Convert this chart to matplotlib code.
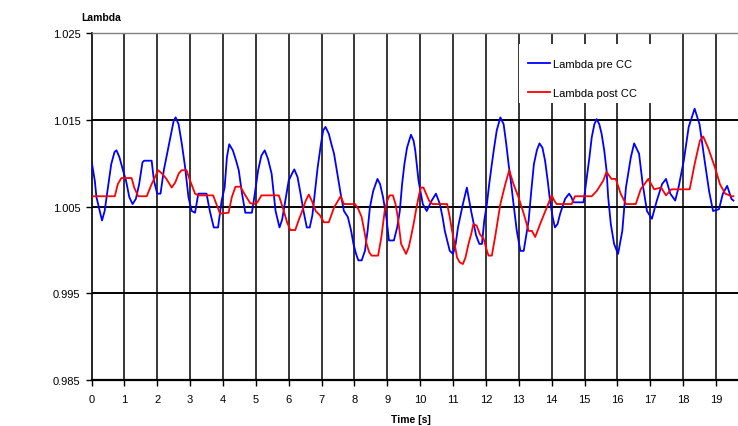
import matplotlib
matplotlib.use("Agg")
import matplotlib.pyplot as plt
from matplotlib.patches import Rectangle

plt.rcParams['font.family'] = ['Liberation Sans', 'DejaVu Sans']

# Lambda pre CC (blue)
t_pre = [0.00, 0.10, 0.15, 0.25, 0.32, 0.40, 0.50, 0.60, 0.70, 0.76, 0.85, 0.95,
         1.05, 1.15, 1.25, 1.35, 1.45, 1.55, 1.60, 1.83, 1.90, 2.00, 2.10, 2.20,
         2.30, 2.40, 2.50, 2.56, 2.65, 2.75, 2.85, 2.95, 3.05, 3.15, 3.25, 3.50,
         3.60, 3.72, 3.85, 3.96, 4.05, 4.12, 4.19, 4.30, 4.40, 4.48, 4.58, 4.68,
         4.88, 4.97, 5.07, 5.17, 5.27, 5.37, 5.48, 5.60, 5.72, 5.80, 5.88, 6.00,
         6.10, 6.17, 6.27, 6.36, 6.45, 6.55, 6.64, 6.72, 6.80, 6.88, 6.98, 7.05,
         7.12, 7.22, 7.30, 7.38, 7.48, 7.58, 7.68, 7.80, 7.90, 7.97, 8.05, 8.12,
         8.22, 8.32, 8.40, 8.47, 8.57, 8.70, 8.78, 8.87, 8.97, 9.05, 9.20, 9.30,
         9.38, 9.45, 9.52, 9.60, 9.72, 9.80, 9.85, 9.95, 10.08, 10.20, 10.35,
         10.48, 10.60, 10.68, 10.75, 10.90, 11.00, 11.08, 11.15, 11.30, 11.42,
         11.55, 11.70, 11.80, 11.88, 11.95, 12.03, 12.10, 12.18, 12.25, 12.33,
         12.44, 12.54, 12.62, 12.69, 12.77, 12.84, 12.94, 13.05, 13.15, 13.22,
         13.30, 13.38, 13.46, 13.55, 13.63, 13.72, 13.80, 13.88, 13.95, 14.03,
         14.10, 14.18, 14.26, 14.41, 14.53, 14.60, 14.66, 14.97, 15.07, 15.15,
         15.22, 15.30, 15.37, 15.45, 15.52, 15.60, 15.67, 15.72, 15.80, 15.90,
         16.02, 16.15, 16.26, 16.41, 16.51, 16.66, 16.77, 16.90, 17.05, 17.20,
         17.36, 17.48, 17.61, 17.76, 17.86, 18.02, 18.17, 18.35, 18.50, 18.64,
         18.79, 18.91, 19.09, 19.21, 19.34, 19.47, 19.53]
lam_pre = [1.0103, 1.0080, 1.0061, 1.0045, 1.0034, 1.0045, 1.0072, 1.0099, 1.0113,
           1.0115, 1.0107, 1.0093, 1.0080, 1.0061, 1.0053, 1.0059, 1.0076, 1.0101,
           1.0103, 1.0103, 1.0080, 1.0065, 1.0065, 1.0092, 1.0111, 1.0130, 1.0149,
           1.0153, 1.0145, 1.0122, 1.0095, 1.0061, 1.0045, 1.0043, 1.0065, 1.0065,
           1.0045, 1.0026, 1.0026, 1.0057, 1.0072, 1.0107, 1.0122, 1.0115, 1.0103,
           1.0092, 1.0065, 1.0043, 1.0043, 1.0065, 1.0092, 1.0109, 1.0115, 1.0105,
           1.0088, 1.0045, 1.0026, 1.0035, 1.0053, 1.0080, 1.0088, 1.0093, 1.0084,
           1.0065, 1.0045, 1.0026, 1.0026, 1.0040, 1.0068, 1.0095, 1.0122, 1.0138,
           1.0142, 1.0134, 1.0122, 1.0111, 1.0088, 1.0065, 1.0045, 1.0038, 1.0022,
           1.0007, 0.99954, 0.9988, 0.9988, 0.9999, 1.0022, 1.0049, 1.0068, 1.0082,
           1.0076, 1.0061, 1.0038, 1.0011, 1.0011, 1.0026, 1.0045, 1.0076, 1.0099,
           1.0118, 1.0133, 1.0126, 1.0115, 1.0080, 1.0053, 1.0045, 1.0057, 1.0065,
           1.0053, 1.0038, 1.0022, 0.9999, 0.99954, 1.0007, 1.0026, 1.0053, 1.0072,
           1.0045, 1.0017, 1.0007, 1.0007, 1.0034, 1.0053, 1.0076, 1.0099, 1.0118,
           1.0138, 1.0153, 1.0145, 1.0122, 1.0099, 1.0076, 1.0053, 1.0022, 0.9999,
           0.9999, 1.0015, 1.0034, 1.0068, 1.0099, 1.0115, 1.0123, 1.0118, 1.0103,
           1.0080, 1.0057, 1.0038, 1.0026, 1.0030, 1.0042, 1.0059, 1.0065, 1.0061,
           1.0055, 1.0055, 1.0084, 1.0107, 1.0130, 1.0145, 1.0151, 1.0145, 1.0134,
           1.0115, 1.0092, 1.0061, 1.0030, 1.0007, 0.99954, 1.0022, 1.0072, 1.0107,
           1.0123, 1.0111, 1.0076, 1.0045, 1.0036, 1.0057, 1.0076, 1.0082, 1.0065,
           1.0057, 1.0072, 1.0103, 1.0142, 1.0163, 1.0145, 1.0107, 1.0068, 1.0045,
           1.0047, 1.0065, 1.0074, 1.0059, 1.0057]

# Lambda post CC (red)
t_post = [0.00, 0.71, 0.80, 0.91, 1.22, 1.30, 1.42, 1.68, 1.83, 2.03, 2.15, 2.28,
          2.44, 2.55, 2.65, 2.74, 2.89, 3.00, 3.15, 3.25, 3.70, 3.80, 3.91, 4.17,
          4.27, 4.38, 4.53, 4.68, 4.83, 4.95, 5.05, 5.17, 5.70, 5.85, 5.95, 6.05,
          6.20, 6.30, 6.41, 6.52, 6.61, 6.70, 6.82, 6.95, 7.07, 7.22, 7.38, 7.58,
          7.68, 8.02, 8.12, 8.22, 8.30, 8.37, 8.45, 8.52, 8.72, 8.82, 8.92, 9.00,
          9.07, 9.17, 9.25, 9.32, 9.42, 9.57, 9.65, 9.72, 9.80, 9.87, 9.95, 10.02,
          10.10, 10.18, 10.27, 10.37, 10.82, 10.90, 10.97, 11.05, 11.12, 11.20,
          11.30, 11.38, 11.47, 11.55, 11.62, 11.72, 11.82, 11.93, 12.00, 12.08,
          12.18, 12.28, 12.36, 12.44, 12.52, 12.59, 12.71, 12.84, 12.99, 13.15,
          13.30, 13.40, 13.50, 13.65, 13.85, 14.00, 14.08, 14.15, 14.61, 14.71,
          15.22, 15.37, 15.57, 15.67, 15.82, 15.95, 16.10, 16.26, 16.56, 16.71,
          16.94, 17.12, 17.33, 17.48, 17.64, 18.20, 18.35, 18.51, 18.61, 18.76,
          18.97, 19.12, 19.28, 19.48, 19.53]
lam_post = [1.0062, 1.0062, 1.0076, 1.0083, 1.0083, 1.0072, 1.0062, 1.0062, 1.0076,
            1.0092, 1.0088, 1.0082, 1.0072, 1.0078, 1.0088, 1.0092, 1.0092, 1.0080,
            1.0065, 1.0063, 1.0063, 1.0053, 1.0042, 1.0043, 1.0061, 1.0073, 1.0073,
            1.0063, 1.0054, 1.0053, 1.0055, 1.0063, 1.0063, 1.0045, 1.0032, 1.0023,
            1.0023, 1.0034, 1.0045, 1.0057, 1.0064, 1.0057, 1.0045, 1.0040, 1.0032,
            1.0032, 1.0049, 1.0062, 1.0053, 1.0053, 1.0047, 1.0038, 1.0022, 1.0007,
            0.99973, 0.99935, 0.99935, 1.0015, 1.0045, 1.0057, 1.0063, 1.0063, 1.0053,
            1.0038, 1.0007, 0.99955, 1.0003, 1.0015, 1.0030, 1.0045, 1.0061, 1.0072,
            1.0072, 1.0065, 1.0057, 1.0053, 1.0053, 1.0038, 1.0022, 1.0007, 0.99915,
            0.99858, 0.99838, 0.99915, 1.0007, 1.0018, 1.0030, 1.0028, 1.0018, 1.0013,
            1.0003, 0.99935, 0.99935, 1.0015, 1.0034, 1.0053, 1.0065, 1.0076, 1.0092,
            1.0076, 1.0061, 1.0042, 1.0022, 1.0022, 1.0015, 1.0030, 1.0049, 1.0063,
            1.0057, 1.0053, 1.0053, 1.0062, 1.0062, 1.0068, 1.0080, 1.0090, 1.0082,
            1.0082, 1.0065, 1.0053, 1.0053, 1.0070, 1.0082, 1.0070, 1.0072, 1.0063,
            1.0070, 1.0070, 1.0099, 1.0126, 1.0131, 1.0118, 1.0095, 1.0076, 1.0065,
            1.0062, 1.0062]

x_ticks = list(range(0, 20))
y_ticks = [0.985, 0.995, 1.005, 1.015, 1.025]

fig = plt.figure(figsize=(7.38, 4.27), dpi=100)
ax = fig.add_axes([91.5 / 738, 46 / 427, 1 - 91.5 / 738, 346.7 / 427])

ax.plot(t_pre, lam_pre, color='#0000FF', lw=1.3, label='Lambda pre CC', zorder=4)
ax.plot(t_post, lam_post, color='#FF0000', lw=1.3, label='Lambda post CC', zorder=5)

ax.set_xlim(0, 19.67)
ax.set_ylim(0.985, 1.025)
ax.set_xticks(x_ticks)
ax.set_yticks(y_ticks)
ax.set_yticklabels([f'{v:.3f}' for v in y_ticks])

# grid lines
for x in x_ticks[1:]:
    ax.axvline(x, color='black', lw=1.1, zorder=1)
for y in y_ticks[1:-1]:
    ax.axhline(y, color='black', lw=1.4, zorder=1)

ax.spines['right'].set_visible(False)
ax.spines['top'].set_color('#808080')
ax.spines['top'].set_linewidth(1.0)
ax.spines['left'].set_linewidth(1.2)
ax.spines['bottom'].set_linewidth(1.6)
ax.tick_params(axis='both', direction='out', length=4, width=1, labelsize=8,
               colors='black', pad=4)
ax.tick_params(axis='x', pad=6)

# white box behind the legend
ax.add_patch(Rectangle((519 / 738, 1 - 104 / 427), 162 / 738, 59 / 427,
                       transform=fig.transFigure, facecolor='white',
                       edgecolor='none', zorder=3, clip_on=False))
leg = ax.legend(loc='upper left', bbox_to_anchor=(522 / 738, 1 - 54 / 427),
                bbox_transform=fig.transFigure, frameon=False, fontsize=8,
                handlelength=2.0, handletextpad=0.3, labelspacing=1.75,
                borderpad=0)
leg.set_zorder(6)

fig.text(101 / 738, 1 - 18 / 427, 'Lambda', fontsize=7.5, fontweight='bold',
         ha='center', va='center')
fig.text(411 / 738, 1 - 420 / 427, 'Time [s]', fontsize=7.5, fontweight='bold',
         ha='center', va='center')

fig.savefig('out.png', dpi=100)
